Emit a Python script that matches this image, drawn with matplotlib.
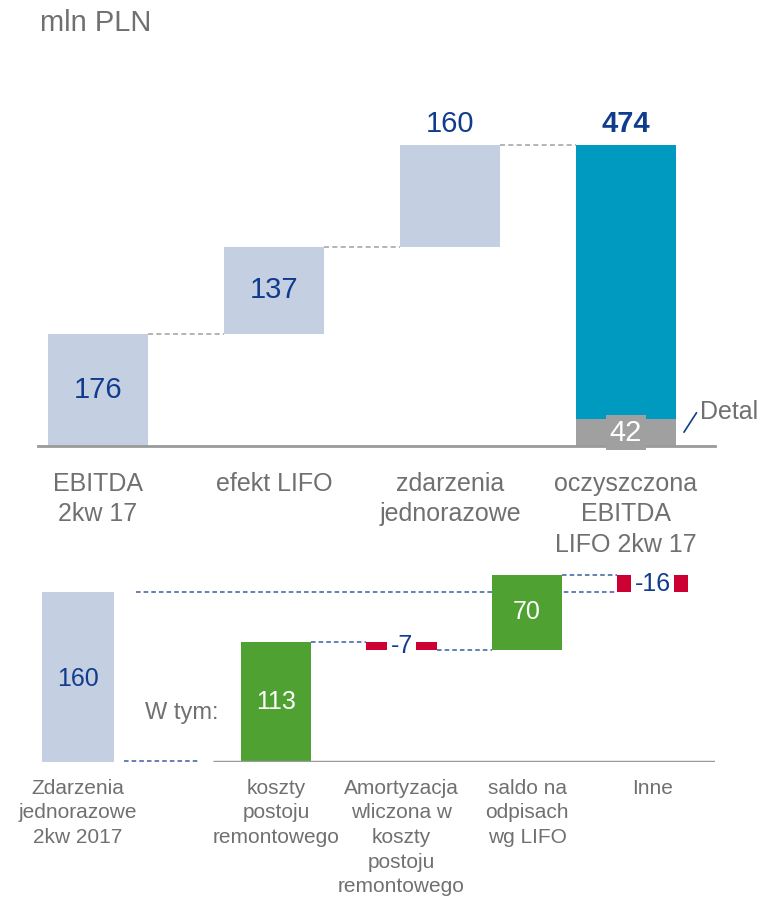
import matplotlib
matplotlib.use("Agg")
import matplotlib.pyplot as plt
import numpy as np
from matplotlib.transforms import blended_transform_factory

plt.rcParams['font.family'] = ['Liberation Sans', 'DejaVu Sans']

# ---------------- data ----------------
unit_label = "mln PLN"
top_categories = ["EBITDA\n2kw 17", "efekt LIFO", "zdarzenia\njednorazowe",
                  "oczyszczona\nEBITDA\nLIFO 2kw 17"]
top_values = [176, 137, 160, 474]
detal_value = 42
detal_label = "Detal"

bottom_categories = ["Zdarzenia\njednorazowe\n2kw 2017", "koszty\npostoju\nremontowego",
                     "Amortyzacja\nwliczona w\nkoszty\npostoju\nremontowego",
                     "saldo na\nodpisach\nwg LIFO", "Inne"]
bottom_values = [160, 113, -7, 70, -16]
w_tym_label = "W tym:"

# ---------------- styles ----------------
LIGHT = "#C4CFE1"
TEAL = "#0099BF"
GREY_BAR = "#A0A0A0"
GREEN = "#4FA232"
RED = "#CC0033"
NAVY = "#103C8E"
TXT = "#707070"
BASE = "#9A9A9A"
DASH_TOP = "#A8A8A8"
DASH_BOT = "#3A5FA0"

fig = plt.figure(figsize=(7.65, 9), dpi=100)
W, H = 765, 900

# ---------------- top chart ----------------
ax1 = fig.add_axes([38 / W, (H - 446) / H, (715 - 38) / W, 318 / H])
ax1.set_xlim((38 - 98) / 176, (715 - 98) / 176)
ax1.set_ylim(0, 500)
for s in ["top", "right", "left"]:
    ax1.spines[s].set_visible(False)
ax1.spines["bottom"].set_color(BASE)
ax1.spines["bottom"].set_linewidth(2)
ax1.set_yticks([])

xt = np.arange(len(top_values))
bw = 0.57
bottoms = [0]
for v in top_values[:2]:
    bottoms.append(bottoms[-1] + v)
# step bars
for i in range(3):
    ax1.bar(xt[i], top_values[i], bottom=bottoms[i], width=bw, color=LIGHT, zorder=2)
# total bar split: detal + rest
total = top_values[3]
ax1.bar(xt[3], detal_value, width=bw, color=GREY_BAR, zorder=2)
ax1.bar(xt[3], total - detal_value, bottom=detal_value, width=bw, color=TEAL, zorder=2)

# connectors
for i in range(3):
    lvl = bottoms[i] + top_values[i]
    ax1.plot([xt[i] + bw / 2, xt[i + 1] - bw / 2], [lvl, lvl], color=DASH_TOP,
             lw=1.2, ls=(0, (3, 2)), zorder=1)

# value labels
ax1.text(xt[0], bottoms[0] + top_values[0] / 2, str(top_values[0]), ha="center",
         va="center", fontsize=21, color=NAVY)
ax1.text(xt[1], bottoms[1] + top_values[1] / 2, str(top_values[1]), ha="center",
         va="center", fontsize=21, color=NAVY)
ax1.annotate(str(top_values[2]), xy=(xt[2], bottoms[2] + top_values[2]), xytext=(0, 15),
             textcoords="offset points", ha="center", va="center", fontsize=21,
             color=NAVY, annotation_clip=False)
ax1.annotate(str(total), xy=(xt[3], total), xytext=(0, 15), textcoords="offset points",
             ha="center", va="center", fontsize=21, color=NAVY, fontweight="bold",
             annotation_clip=False)
ax1.text(xt[3], detal_value / 2, str(detal_value), ha="center", va="center",
         fontsize=21, color="white", zorder=4,
         bbox=dict(boxstyle="square,pad=0.12", fc=GREY_BAR, ec="none"))

# Detal callout
ax1.plot([3.33, 3.40], [22, 52], color=NAVY, lw=1.2, clip_on=False)
ax1.text(3.42, 54, detal_label, ha="left", va="center", fontsize=18, color=TXT)

ax1.set_xticks(xt)
ax1.set_xticklabels(top_categories, fontsize=18, color=TXT, linespacing=1.32)
ax1.tick_params(axis="x", length=0, pad=19)

fig.text(40 / W, 1 - 23 / H, unit_label, ha="left", va="center", fontsize=21, color=TXT)

# ---------------- bottom chart ----------------
ax2 = fig.add_axes([30 / W, (H - 762) / H, (715 - 30) / W, 191 / H])
x_left = (30 - 276) / 125.5 + 1
x_right = (715 - 276) / 125.5 + 1
ax2.set_xlim(x_left, x_right)
ax2.set_ylim(0, 180)
ax2.axis("off")

xb = [-0.58, 1, 2, 3, 4]
bwb = 0.56
# reference bar
ax2.bar(xb[0], bottom_values[0], width=0.575, color=LIGHT, zorder=2)
ax2.text(xb[0], bottom_values[0] / 2 - 2, str(bottom_values[0]), ha="center",
         va="center", fontsize=18, color=NAVY)

# waterfall
level = 0
starts = []
for v in bottom_values[1:]:
    starts.append(level)
    level += v
for k, v in enumerate(bottom_values[1:]):
    i = k + 1
    s = starts[k]
    if v > 0:
        ax2.bar(xb[i], v, bottom=s, width=bwb, color=GREEN, zorder=3)
        ax2.text(xb[i], s + v / 2, str(v), ha="center", va="center", fontsize=18,
                 color="white", zorder=4)
    else:
        ax2.bar(xb[i], v, bottom=s, width=bwb, color=RED, zorder=3)
        ax2.text(xb[i], s + v / 2, str(v), ha="center", va="center", fontsize=18,
                 color=NAVY, zorder=5,
                 bbox=dict(boxstyle="square,pad=0.15", fc="white", ec="none"))

# baseline
ax2.plot([0.5, x_right], [0, 0], color=BASE, lw=2.5, solid_capstyle="butt", zorder=4)

dash = dict(color=DASH_BOT, lw=1.1, ls=(0, (3, 2)), zorder=1)
# reference level line to end of Inne
ax2.plot([-0.115, xb[4] - bwb / 2], [bottom_values[0]] * 2, **dash)
ax2.plot([-0.21, 0.39], [1, 1], **dash)
for k in range(len(bottom_values) - 2):
    i = k + 1
    lvl = starts[k] + bottom_values[i]
    ax2.plot([xb[i] + bwb / 2, xb[i + 1] - bwb / 2], [lvl, lvl], **dash)

ax2.text(-0.044, 46, w_tym_label, ha="left", va="center", fontsize=17, color=TXT)

# bottom category labels
trans = blended_transform_factory(ax2.transData, ax2.transAxes)
for x, lab in zip(xb, bottom_categories):
    ax2.annotate(lab, xy=(x, 0), xycoords=trans, xytext=(0, -12),
                 textcoords="offset points", ha="center", va="top", fontsize=15,
                 color=TXT, linespacing=1.38, annotation_clip=False)

fig.savefig("out.png", dpi=100)
